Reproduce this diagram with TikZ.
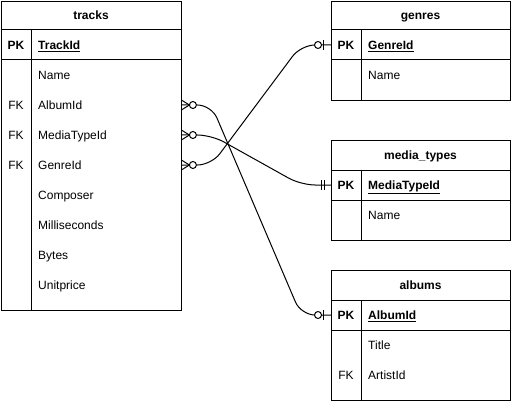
\documentclass[tikz,border=0pt]{standalone}
\usepackage{fontspec}
\setmainfont{Liberation Sans}
\usetikzlibrary{calc}
\tikzset{
  tbl/.style={draw, line width=1pt, inner sep=0pt, anchor=north west},
  sep/.style={line width=1pt},
  row/.style={inner sep=0pt, minimum width=180pt, minimum height=30pt, anchor=west},
  ttl/.style={font=\fontsize{12}{14}\selectfont\bfseries, inner sep=0pt, anchor=base},
  key/.style={font=\fontsize{12}{14}\selectfont, inner sep=0pt, anchor=base},
  pkkey/.style={font=\fontsize{12}{14}\selectfont\bfseries, inner sep=0pt, anchor=base},
  fld/.style={font=\fontsize{12}{14}\selectfont, inner sep=0pt, anchor=base west},
  pkfld/.style={font=\fontsize{12}{14}\selectfont\bfseries, inner sep=0pt, anchor=base west},
  conn/.style={line width=1pt, rounded corners=14pt},
  erm/.style={line width=1pt},
}
\begin{document}
\begin{tikzpicture}[x=1pt,y=-1pt]
\useasboundingbox (0,0) rectangle (511,401);
% ---------- tracks ----------
\node[tbl, minimum width=180pt, minimum height=309pt] (tracks) at (1,1) {};
\draw[sep] (1,30) -- (181,30);
\draw[sep] (1,60) -- (181,60);
\draw[sep] (31,30) -- (31,310);
\node[ttl] (tT) at (91,19.5) {tracks};
\node[pkkey] (tPK) at (16,49.5) {PK};
\node[pkfld] (tId) at (38,49.5) {\underline{TrackId}};
\node[fld] (tName) at (38,79.5) {Name};
\node[key] (tFK1) at (16,109.5) {FK};
\node[fld] (tAlb) at (38,109.5) {AlbumId};
\node[key] (tFK2) at (16,139.5) {FK};
\node[fld] (tMed) at (38,139.5) {MediaTypeId};
\node[key] (tFK3) at (16,169.5) {FK};
\node[fld] (tGen) at (38,169.5) {GenreId};
\node[fld] (tComp) at (38,199.5) {Composer};
\node[fld] (tMs) at (38,229.5) {Milliseconds};
\node[fld] (tBy) at (38,259.5) {Bytes};
\node[fld] (tUp) at (38,289.5) {Unitprice};
\node[row] (tAlbRow) at (1,105) {};
\node[row] (tMedRow) at (1,135) {};
\node[row] (tGenRow) at (1,165) {};
% ---------- genres ----------
\node[tbl, minimum width=179pt, minimum height=99pt] (genres) at (331,1) {};
\draw[sep] (331,30) -- (510,30);
\draw[sep] (331,60) -- (510,60);
\draw[sep] (361,30) -- (361,100);
\node[ttl] (gT) at (420.5,19.5) {genres};
\node[pkkey] (gPK) at (346,49.5) {PK};
\node[pkfld] (gId) at (368,49.5) {\underline{GenreId}};
\node[fld] (gName) at (368,79.5) {Name};
\node[row, minimum width=179pt] (gPKRow) at (331,45) {};
% ---------- media_types ----------
\node[tbl, minimum width=179pt, minimum height=100pt] (media) at (331,140) {};
\draw[sep] (331,170) -- (510,170);
\draw[sep] (331,200) -- (510,200);
\draw[sep] (361,170) -- (361,240);
\node[ttl] (mT) at (420.5,159.5) {media\_types};
\node[pkkey] (mPK) at (346,189.5) {PK};
\node[pkfld] (mId) at (368,189.5) {\underline{MediaTypeId}};
\node[fld] (mName) at (368,219.5) {Name};
\node[row, minimum width=179pt] (mPKRow) at (331,185) {};
% ---------- albums ----------
\node[tbl, minimum width=179pt, minimum height=130pt] (albums) at (331,270) {};
\draw[sep] (331,300) -- (510,300);
\draw[sep] (331,330) -- (510,330);
\draw[sep] (361,300) -- (361,400);
\node[ttl] (aT) at (420.5,289.5) {albums};
\node[pkkey] (aPK) at (346,319.5) {PK};
\node[pkfld] (aId) at (368,319.5) {\underline{AlbumId}};
\node[fld] (aTitle) at (368,349.5) {Title};
\node[key] (aFK) at (346,379.5) {FK};
\node[fld] (aArt) at (368,379.5) {ArtistId};
\node[row, minimum width=179pt] (aPKRow) at (331,315) {};
% ---------- connectors ----------
\draw[conn] (tAlbRow.east) -- ++(30,0) -- ($(aPKRow.west)+(-30,0)$) -- (aPKRow.west);
\draw[conn] (tMedRow.east) -- ++(30,0) -- ($(mPKRow.west)+(-30,0)$) -- (mPKRow.west);
\draw[conn] (tGenRow.east) -- ++(30,0) -- ($(gPKRow.west)+(-30,0)$) -- (gPKRow.west);
% crow's feet (zero or many) at tracks
\foreach \r in {tAlbRow,tMedRow,tGenRow}{
  \draw[erm] ($(\r.east)+(0,-5)$) -- ++(8,5) -- ++(-8,5);
  \draw[erm, fill=white] ($(\r.east)+(11.5,0)$) circle (3.5pt);
}
% zero or one at genres and albums
\foreach \r in {gPKRow,aPKRow}{
  \draw[erm] ($(\r.west)+(-8,-5)$) -- ++(0,10);
  \draw[erm, fill=white] ($(\r.west)+(-13,0)$) circle (3.5pt);
}
% mandatory one at media_types
\draw[erm] ($(mPKRow.west)+(-9.5,-5)$) -- ++(0,10);
\draw[erm] ($(mPKRow.west)+(-6.5,-5)$) -- ++(0,10);
\end{tikzpicture}
\end{document}
